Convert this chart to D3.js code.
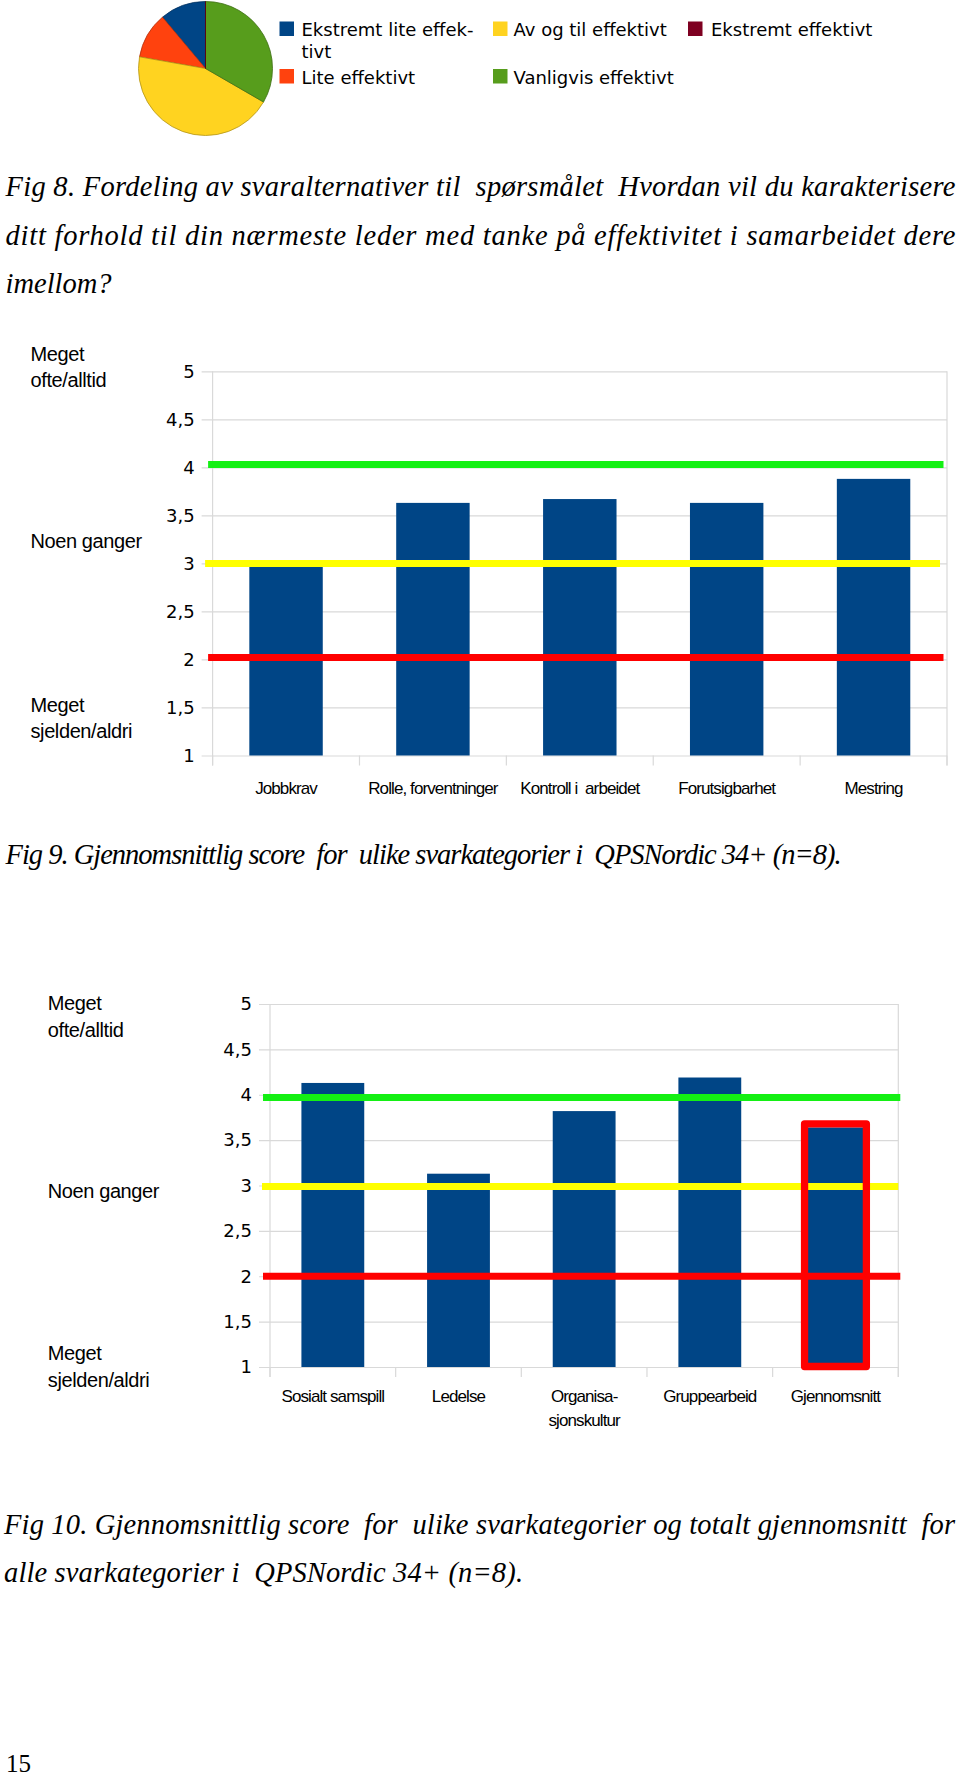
<!DOCTYPE html>
<html>
<head>
<meta charset="utf-8">
<script src="https://cdn.jsdelivr.net/npm/d3@7"></script>
<style>
  html, body { margin: 0; padding: 0; background: #fff; }
  svg { display: block; }
  .cap { font-family: "Liberation Serif", "Times New Roman", serif; font-style: italic; font-size: 28.5px; fill: #000; white-space: pre; }
  .side { font-family: "Liberation Sans", Arial, sans-serif; font-size: 20px; letter-spacing: -0.4px; fill: #000; }
  .xlab { font-family: "Liberation Sans", Arial, sans-serif; font-size: 17px; letter-spacing: -0.9px; fill: #000; }
  .ytick text { font-family: "DejaVu Sans", sans-serif; font-size: 18px; fill: #000; }
  .leg { font-family: "DejaVu Sans", sans-serif; font-size: 18px; fill: #000; }
</style>
</head>
<body>
<svg id="page" width="960" height="1777"></svg>
<script>
// ---------- DATA ----------
const pieLabels = ["Ekstremt lite effek-\ntivt", "Lite effektivt", "Av og til effektivt", "Vanligvis effektivt", "Ekstremt effektivt"];
const pieValues = [1, 1, 4, 3, 0];
const pieColors = ["#004586", "#ff420e", "#ffd320", "#579d1c", "#7e0021"];

const yTickValues = [1, 1.5, 2, 2.5, 3, 3.5, 4, 4.5, 5];
const sideLabels = ["Meget\nofte/alltid", "Noen ganger", "Meget\nsjelden/aldri"];

const categories1 = ["Jobbkrav", "Rolle, forventninger", "Kontroll i  arbeidet", "Forutsigbarhet", "Mestring"];
const values1 = [2.97, 3.63, 3.67, 3.63, 3.88];
const refValues1 = [4.03, 3.0, 2.02];

const categories2 = ["Sosialt samspill", "Ledelse", "Organisa-\nsjonskultur", "Gruppearbeid", "Gjennomsnitt"];
const values2 = [4.13, 3.13, 3.82, 4.19, 3.64];
const refValues2 = [3.97, 2.99, 2.0];
const highlightIndex2 = 4;

const refColors = ["#14f014", "#ffff00", "#ff0000"];
const barColor = "#004586";

const caption8 = ["Fig 8. Fordeling av svaralternativer til  spørsmålet  Hvordan vil du karakterisere",
                  "ditt forhold til din nærmeste leder med tanke på effektivitet i samarbeidet dere",
                  "imellom?"];
const caption9 = ["Fig 9. Gjennomsnittlig score  for  ulike svarkategorier i  QPSNordic 34+ (n=8)."];
const caption10 = ["Fig 10. Gjennomsnittlig score  for  ulike svarkategorier og totalt gjennomsnitt  for",
                   "alle svarkategorier i  QPSNordic 34+ (n=8)."];

// ---------- DRAW ----------
const svg = d3.select("#page");
svg.append("rect").attr("width", 960).attr("height", 1777).attr("fill", "#fff");

// Pie
const pieG = svg.append("g").attr("transform", "translate(205.5,68.5)");
const pie = d3.pie().sort(null).startAngle(0).endAngle(-2 * Math.PI);
const arc = d3.arc().innerRadius(0).outerRadius(67);
pieG.selectAll("path").data(pie(pieValues)).join("path")
  .attr("d", arc)
  .attr("fill", (d, i) => pieColors[i])
  .attr("stroke", (d, i) => d3.color(pieColors[i]).darker(1))
  .attr("stroke-width", 0.8);

// Legend
const legCols = [279.5, 493, 688];
const legTextX = [301.5, 513.5, 711];
const legRows = [36, 83.5];
const leg = svg.append("g");
pieLabels.forEach((lab, i) => {
  const c = Math.floor(i / 2), r = i % 2;
  leg.append("rect").attr("x", legCols[c]).attr("y", legRows[r] - 14.5)
    .attr("width", 14.5).attr("height", 14.5).attr("fill", pieColors[i]);
  const t = leg.append("text").attr("class", "leg").attr("x", legTextX[c]).attr("y", legRows[r]);
  lab.split("\n").forEach((ln, k) => {
    t.append("tspan").attr("x", legTextX[c]).attr("dy", k === 0 ? 0 : 22).text(ln);
  });
});

// Captions
function caption(lines, x, y0, lh, widths) {
  lines.forEach((ln, i) => {
    const t = svg.append("text").attr("class", "cap").attr("x", x).attr("y", y0 + i * lh).text(ln);
    if (widths && widths[i]) t.attr("textLength", widths[i]).attr("lengthAdjust", "spacing");
  });
}
caption(caption8, 5.5, 196, 48.5, [950, 950, null]);
caption(caption9, 5.5, 863.5, 48.5, [836]);
caption(caption10, 4, 1533.5, 48.5, [951, 519]);

svg.append("text").attr("x", 6).attr("y", 1772)
  .style("font-family", '"Liberation Serif", serif').style("font-size", "25px").text("15");

const gridColor = "#d9d9d9";
const fmt = v => String(v).replace(".", ",");

function barChart(opt) {
  const g = svg.append("g");
  const y = d3.scaleLinear().domain([1, 5]).range(opt.yRange);
  const x = d3.scaleBand().domain(opt.categories).range(opt.xRange).paddingInner(0.5).paddingOuter(0.25);
  const [x0, x1] = x.range();
  const w = x1 - x0;

  // Y axis with gridlines
  const ax = g.append("g").attr("class", "ytick").attr("transform", `translate(${x1},0)`)
    .call(d3.axisLeft(y).tickValues(yTickValues).tickFormat(fmt).tickSize(w + 11).tickPadding(7));
  ax.select(".domain").remove();
  ax.selectAll("line").attr("stroke", gridColor).attr("stroke-width", 1.2);

  // Left axis line and right border
  [x0, x1].forEach(xx => {
    g.append("line").attr("x1", xx).attr("x2", xx).attr("y1", y(5)).attr("y2", y(1) + 10)
      .attr("stroke", gridColor).attr("stroke-width", 1.2);
  });
  // Category separators
  d3.range(opt.categories.length + 1).forEach(i => {
    const xx = x0 + i * x.step();
    g.append("line").attr("x1", xx).attr("x2", xx).attr("y1", y(1)).attr("y2", y(1) + 10)
      .attr("stroke", gridColor).attr("stroke-width", 1.2);
  });

  // Bars
  g.selectAll("rect.bar").data(opt.values).join("rect").attr("class", "bar")
    .attr("x", (d, i) => x(opt.categories[i]))
    .attr("width", x.bandwidth())
    .attr("y", d => y(d))
    .attr("height", d => y(1) - y(d))
    .attr("fill", barColor);

  // Reference lines
  opt.refValues.forEach((v, i) => {
    const ext = opt.refExt[i];
    g.append("line").attr("x1", x0 + ext[0]).attr("x2", x1 + ext[1])
      .attr("y1", y(v)).attr("y2", y(v))
      .attr("stroke", refColors[i]).attr("stroke-width", 7);
  });

  // Highlight
  if (opt.highlight != null) {
    const c = opt.categories[opt.highlight];
    const v = opt.values[opt.highlight];
    g.append("rect")
      .attr("x", x(c) + 0.5).attr("width", x.bandwidth() - 1)
      .attr("y", y(v) - 3.5).attr("height", y(1) - y(v) + 3)
      .attr("fill", "none").attr("stroke", "#ff0000").attr("stroke-width", 7.3)
      .attr("stroke-linejoin", "round");
  }

  // Category labels
  opt.categories.forEach(c => {
    const t = g.append("text").attr("class", "xlab").attr("text-anchor", "middle")
      .attr("x", x(c) + x.bandwidth() / 2).attr("y", y(1) + opt.xLabOffset)
      .style("white-space", "pre");
    c.split("\n").forEach((ln, k) => {
      t.append("tspan").attr("x", x(c) + x.bandwidth() / 2).attr("dy", k === 0 ? 0 : 23.5).text(ln);
    });
  });

  // Side labels
  sideLabels.forEach((lab, i) => {
    const t = g.append("text").attr("class", "side").attr("x", opt.sideX).attr("y", opt.sideY[i]);
    lab.split("\n").forEach((ln, k) => {
      t.append("tspan").attr("x", opt.sideX).attr("dy", k === 0 ? 0 : 26.5).text(ln);
    });
  });
}

barChart({
  categories: categories1, values: values1, refValues: refValues1,
  yRange: [755.5, 371.3], xRange: [212.6, 947],
  refExt: [[-4.5, -3.5], [-7.5, -7], [-4.5, -3.5]],
  xLabOffset: 38, sideX: 30.5, sideY: [360.7, 548.3, 711.5], highlight: null
});

barChart({
  categories: categories2, values: values2, refValues: refValues2,
  yRange: [1367, 1004], xRange: [270, 898.3],
  refExt: [[-7, 2], [-8, 0], [-7, 2]],
  xLabOffset: 35, sideX: 47.8, sideY: [1010, 1198.3, 1360], highlight: highlightIndex2
});
</script>
</body>
</html>
